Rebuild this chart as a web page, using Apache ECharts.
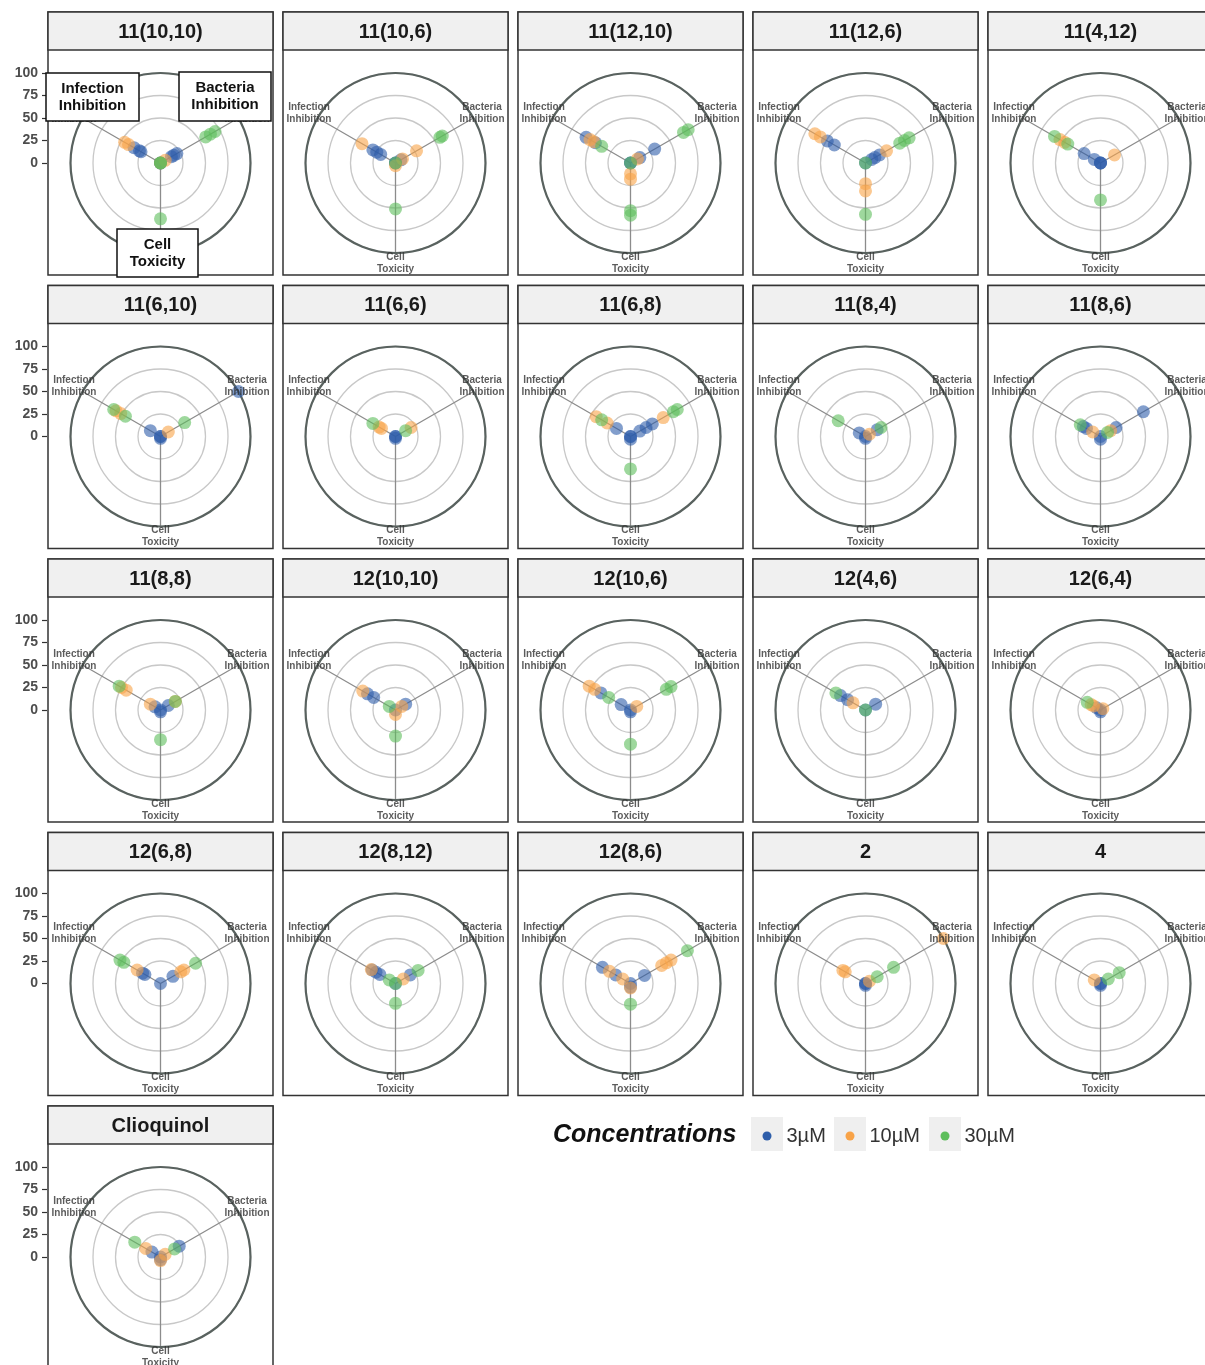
<!DOCTYPE html>
<html><head><meta charset="utf-8">
<script src="https://cdn.jsdelivr.net/npm/echarts@6/dist/echarts.min.js"></script>
<style>html,body{margin:0;padding:0;background:#fff}#c{width:1205px;height:1365px}</style>
</head><body><div id="c"></div><script>
// ---------------- data ----------------
const panelNames = ['11(10,10)','11(10,6)','11(12,10)','11(12,6)','11(4,12)',
  '11(6,10)','11(6,6)','11(6,8)','11(8,4)','11(8,6)',
  '11(8,8)','12(10,10)','12(10,6)','12(4,6)','12(6,4)',
  '12(6,8)','12(8,12)','12(8,6)','2','4','Clioquinol'];
const concentrations = ['3µM','10µM','30µM'];
const axisNames = ['Bacteria\nInhibition','Cell\nToxicity','Infection\nInhibition'];
const radialTicks = [0,25,50,75,100];

// replicate values per panel (percent)
const infection3 = [[34,27,25],[29,24,19],[57,45],[49,40],[21,8],[13],[],[18],[8],[22,18],[7],[36,28],[38,12],[32,23],[5],[23,20],[30,25,20],[36,19],[],[],[11]];
const infection10 = [[46,41],[43],[52,47],[65,58],[52,46],[57,51],[21,18],[44,30],[],[10],[50,44,13],[42],[53,46],[16],[12,9],[30],[31],[27,10],[29,26],[8],[19]];
const infection30 = [[0],[],[37],[],[59,42],[60,45],[29],[37],[35],[26],[53],[8],[28],[38],[17],[52,47],[8],[],[],[],[33]];
const bacteria3 = [[21,17,14],[7],[31,12],[18,12,8],[0],[100],[],[12,20,28],[15],[55,20],[10],[13],[],[13],[],[16],[19],[18],[],[],[24]];
const bacteria10 = [[6],[27,9],[9],[27],[18],[10],[20],[42],[5],[13],[19],[8],[8],[],[3],[30,26],[10],[40,46,52],[100,5],[],[6]];
const bacteria30 = [[58,64,70],[57,60],[68,74],[44,50,56],[],[31],[13],[55,60],[20],[9],[19],[],[46,52],[],[],[45],[29],[73],[36,15],[24,10],[18]];
const toxicity3 = [[0,0],[0,0],[0,0],[0],[0,0],[0,2,0],[0,0,2],[0,3,0],[0,2],[0,3],[0,2],[0],[0,2],[0],[0,2],[0],[0],[0,4],[0,0,2],[0,0,2],[0,3]];
const toxicity10 = [[0],[3],[12,18],[23,31],[],[],[],[],[],[],[],[5],[],[],[],[],[],[5],[],[],[4]];
const toxicity30 = [[62,0],[51,0],[53,58,0],[57,0],[41],[],[],[36],[],[],[33],[29],[38],[0],[],[],[22,0],[23],[],[],[]];

// ---------------- style / layout ----------------
const FONT = '"Liberation Sans", Arial, sans-serif';
const colors = ['#2E5EAA','#F8A348','#5DBE5B'];
const AXIS_ANGLE = {bac:0, tox:120, inf:240};
const X0 = 48, Y0 = 12, DX = 235, DY = 273.5, PW = 225, PH = 263, HEAD = 38, R = 90;

const infAll = [infection3, infection10, infection30];
const bacAll = [bacteria3, bacteria10, bacteria30];
const toxAll = [toxicity3, toxicity10, toxicity30];

const polar = [], angleAxis = [], radiusAxis = [], series = [], graphic = [];
const grid = [], xAxis = [], yAxis = [];

panelNames.forEach((name, i) => {
  const c = i % 5, r = Math.floor(i / 5);
  const left = X0 + c * DX, top = Y0 + r * DY;
  const cx = left + PW / 2, cy = top + HEAD + 113;

  graphic.push({type:'rect', z:-5, shape:{x:left, y:top, width:PW, height:PH},
    style:{fill:'none', stroke:'#333', lineWidth:1.5}, silent:true});
  graphic.push({type:'rect', z:-4, shape:{x:left, y:top, width:PW, height:HEAD},
    style:{fill:'#f0f0f0', stroke:'#333', lineWidth:1.5}, silent:true});
  graphic.push({type:'text', z:-3, x:cx, y:top + HEAD / 2 + 1,
    style:{text:name, fill:'#1a1a1a', font:'bold 20px ' + FONT, align:'center', verticalAlign:'middle'}, silent:true});

  polar.push({center:[cx, cy], radius:R});
  angleAxis.push({polarIndex:i, type:'value', min:0, max:360, interval:120, startAngle:30, clockwise:true, z:2,
    axisLine:{show:true, lineStyle:{color:'#59625f', width:2.2}},
    axisTick:{show:false}, axisLabel:{show:false},
    splitLine:{show:true, lineStyle:{color:'#8c8c8c', width:1.3}}});
  radiusAxis.push({polarIndex:i, type:'value', min:0, max:100, interval:25, z:1,
    axisLine:{show:false}, axisTick:{show:false}, axisLabel:{show:false},
    splitLine:{show:true, lineStyle:{color:'#c8c8c8', width:1.3}}});

  concentrations.forEach((conc, k) => {
    const data = [];
    infAll[k][i].forEach(v => data.push([v, AXIS_ANGLE.inf]));
    bacAll[k][i].forEach(v => data.push([v, AXIS_ANGLE.bac]));
    toxAll[k][i].forEach(v => data.push([v, AXIS_ANGLE.tox]));
    series.push({type:'scatter', name:conc, coordinateSystem:'polar', polarIndex:i,
      symbol:'circle', symbolSize:13, silent:true, z:3,
      itemStyle:{color:colors[k], opacity:0.6}, data});
  });

  series.push({type:'scatter', coordinateSystem:'polar', polarIndex:i, symbolSize:1, clip:false, silent:true, z:4,
    itemStyle:{color:'rgba(0,0,0,0)'},
    data: axisNames.map((n, j) => ({name:n, value:[111, [0,120,240][j]]})),
    label:{show:true, position:'inside', formatter:'{b}', color:'#333', fontSize:10, fontWeight:'bold',
      lineHeight:12, fontFamily:FONT}});

  if (c === 0) {
    const gi = grid.length;
    grid.push({left:47, top:cy - R, width:10, height:R});
    xAxis.push({gridIndex:gi, type:'value', show:false});
    yAxis.push({gridIndex:gi, type:'value', min:radialTicks[0], max:radialTicks[radialTicks.length-1], interval:25,
      axisLine:{show:false}, splitLine:{show:false},
      axisTick:{show:true, length:5, lineStyle:{color:'#333', width:1.2}},
      axisLabel:{fontSize:14, fontWeight:'bold', color:'#4d4d4d', margin:9, fontFamily:FONT}});
  }
});

// annotation boxes on the first panel
(function(){
  const cx = X0 + PW / 2, cy = Y0 + HEAD + 113;
  const boxes = [
    {t:'Infection\nInhibition', x:cx - 114.5, y:cy - 90, w:93, h:48},
    {t:'Bacteria\nInhibition', x:cx + 18.5, y:cy - 91, w:92, h:49},
    {t:'Cell\nToxicity', x:cx - 43.5, y:cy + 66, w:81, h:48}
  ];
  boxes.forEach(b => {
    graphic.push({type:'rect', z:50, shape:{x:b.x, y:b.y, width:b.w, height:b.h},
      style:{fill:'#fff', stroke:'#111', lineWidth:1.5}, silent:true});
    graphic.push({type:'text', z:51, x:b.x + b.w / 2, y:b.y + b.h / 2,
      style:{text:b.t, fill:'#111', font:'bold 15px ' + FONT, lineHeight:17, align:'center', verticalAlign:'middle'}, silent:true});
  });
})();

// legend
graphic.push({type:'text', z:5, x:553, y:1135,
  style:{text:'Concentrations', fill:'#111', font:'italic bold 25px ' + FONT, align:'left', verticalAlign:'middle'}, silent:true});
const keyX = [767, 850, 945];
keyX.forEach(x => graphic.push({type:'rect', z:0, shape:{x:x - 16, y:1117, width:32, height:34},
  style:{fill:'#efefef'}, silent:true}));
const legend = concentrations.map((n, k) => ({
  data:[n], left:keyX[k] - 9.5, top:1121, itemWidth:9, itemHeight:9, icon:'circle', selectedMode:false,
  itemStyle:{opacity:1}, textStyle:{fontSize:20, color:'#333', fontFamily:FONT, padding:[0,0,0,10]}
}));

const chart = echarts.init(document.getElementById('c'), null, {renderer:'canvas'});
chart.setOption({
  animation:false, backgroundColor:'#fff',
  polar, angleAxis, radiusAxis, grid, xAxis, yAxis, series, graphic, legend
});
</script></body></html>
